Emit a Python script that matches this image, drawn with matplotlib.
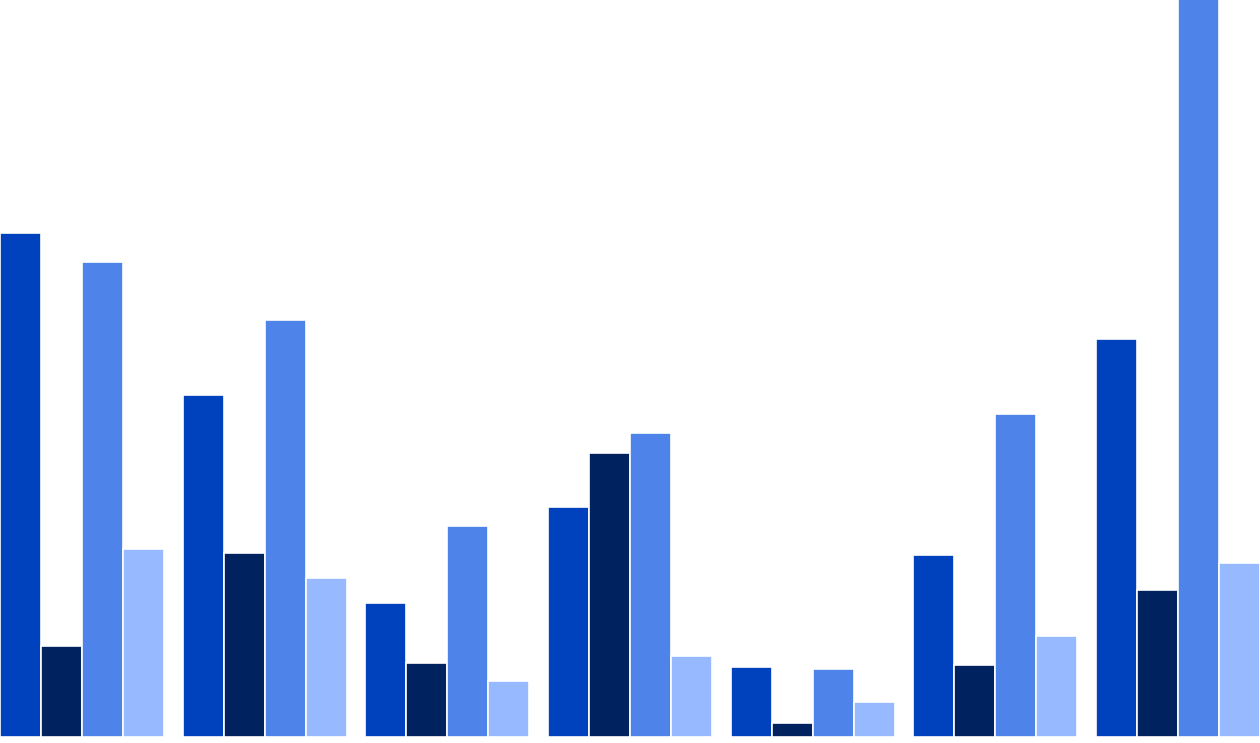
import matplotlib
matplotlib.use("Agg")
import matplotlib.pyplot as plt

# bar heights (pixel units above the baseline)
series_a = [504, 342, 134, 230, 70, 182, 398]
series_b = [91, 184, 74, 284, 14, 72, 147]
series_c = [475, 417, 211, 304, 68, 323, 760]
series_d = [188, 159, 56, 81, 35, 101, 174]
colors = ["#0042BD", "#00225E", "#4E84EA", "#96B9FF"]

fig = plt.figure(figsize=(12.6, 7.43), dpi=100)
ax = fig.add_axes([0, 6 / 743, 1, 737 / 743])

group_pitch = 1096 / 6
bar_pitch = 164 / 4
for j, vals in enumerate([series_a, series_b, series_c, series_d]):
    xs = [i * group_pitch + j * bar_pitch for i in range(len(vals))]
    ax.bar(xs, vals, width=bar_pitch, align="edge", color=colors[j],
           edgecolor="white", linewidth=1.2)

ax.set_xlim(0, 1260)
ax.set_ylim(0, 737)
ax.axis("off")

fig.savefig("out.png", dpi=100)
